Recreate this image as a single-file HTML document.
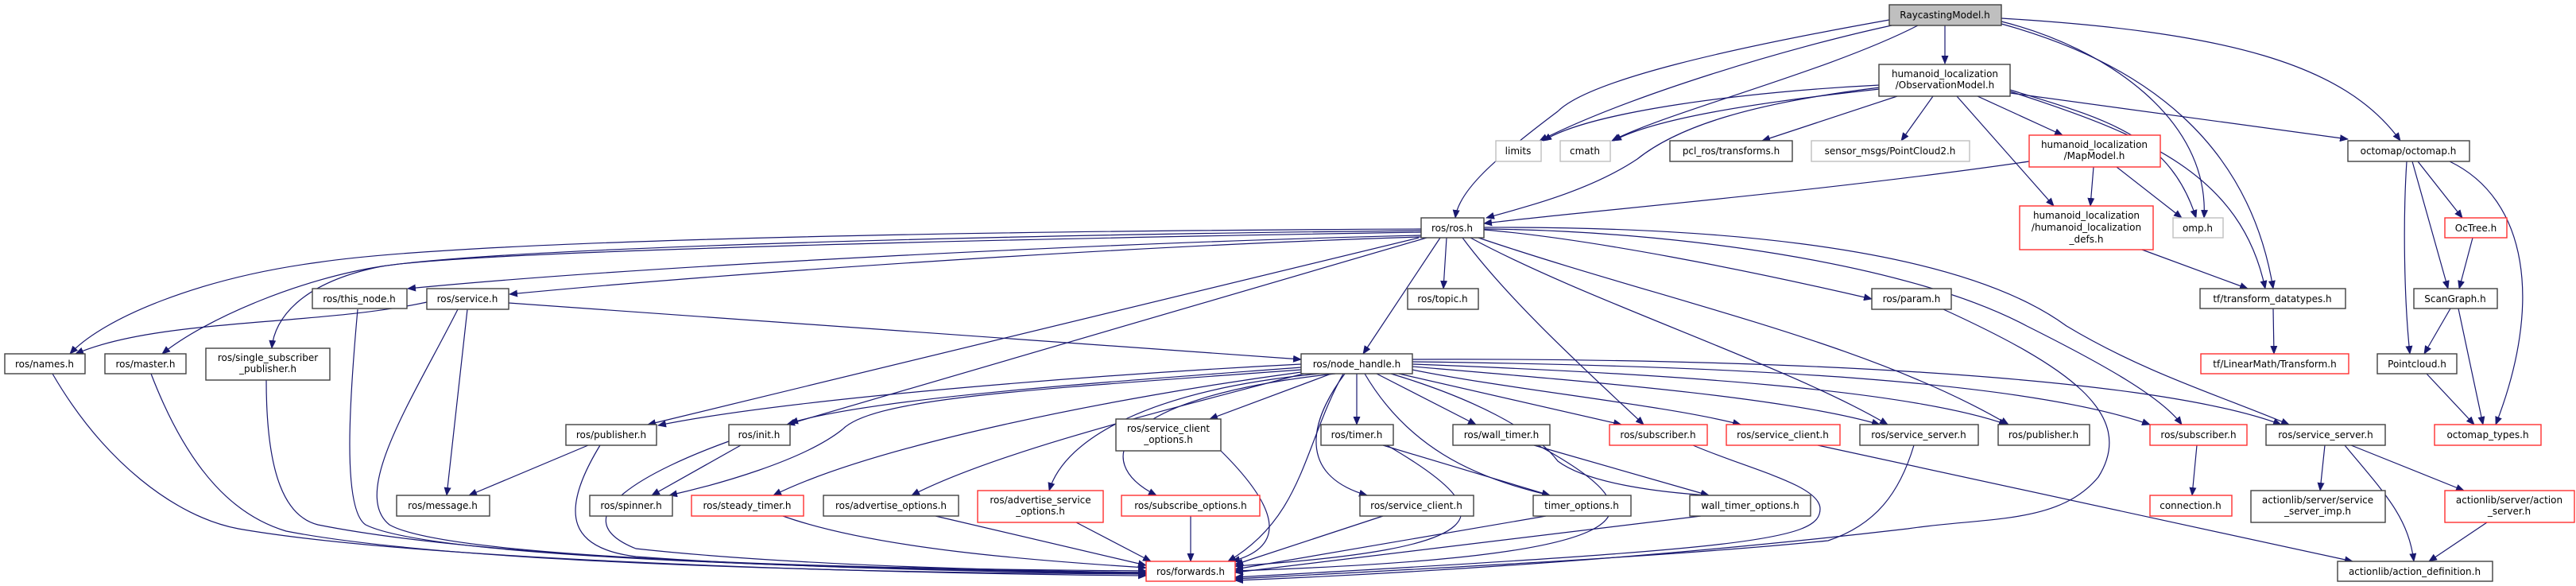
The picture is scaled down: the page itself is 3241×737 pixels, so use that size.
<!DOCTYPE html>
<html><head><meta charset="utf-8"><style>
html,body{margin:0;padding:0;background:#fff;}
svg{display:block;}
text{font-family:"DejaVu Sans","Liberation Sans",sans-serif;font-size:12px;fill:#000;text-anchor:middle;}
.e{fill:none;stroke:#191970;stroke-width:1.2;marker-end:url(#a);}
.b{fill:#fff;stroke:#404040;stroke-width:1.4;}
.r{fill:#fff;stroke:#ff3030;stroke-width:1.4;}
.g{fill:#fff;stroke:#bfbfbf;stroke-width:1.4;}
</style></head><body>
<svg width="3241" height="737" viewBox="0 0 3241 737" xmlns="http://www.w3.org/2000/svg">
<defs><marker id="a" markerUnits="userSpaceOnUse" markerWidth="11" markerHeight="9" refX="10" refY="4.5" orient="auto"><path d="M0,0 L11,4.5 L0,9 z" fill="#191970"/></marker></defs>
<g>
<path class="e" d="M2447,32 L2447,80"/>
<path class="e" d="M2377,25 C2180,60 2000,100 1960,140 C1880,200 1835,240 1831,274"/>
<path class="e" d="M2380,32 C2250,60 2050,120 1937,177"/>
<path class="e" d="M2413,32 C2300,90 2100,140 2028,177"/>
<path class="e" d="M2518,27 C2650,60 2780,150 2773,274"/>
<path class="e" d="M2518,30 C2700,80 2830,180 2860,363"/>
<path class="e" d="M2518,23 C2800,40 2950,80 3020,177"/>
<path class="e" d="M2365,107 C2200,115 2000,140 1942,177"/>
<path class="e" d="M2365,112 C2200,130 2080,150 2030,177"/>
<path class="e" d="M2365,110 C2200,130 2110,160 2060,200 C2000,240 1920,260 1870,274"/>
<path class="e" d="M2387,121 L2217,177"/>
<path class="e" d="M2432,121 L2392,177"/>
<path class="e" d="M2488,121 L2595,170"/>
<path class="e" d="M2462,121 L2584,259"/>
<path class="e" d="M2529,113 C2650,150 2730,170 2763,274"/>
<path class="e" d="M2529,115 C2700,170 2820,220 2850,363"/>
<path class="e" d="M2529,117 L2954,175"/>
<path class="e" d="M2553,203 C2300,240 2000,265 1867,281"/>
<path class="e" d="M2634,210 L2630,259"/>
<path class="e" d="M2663,210 L2745,274"/>
<path class="e" d="M2695,314 L2828,363"/>
<path class="e" d="M3042,203 L3098,274"/>
<path class="e" d="M3035,203 L3080,363"/>
<path class="e" d="M3028,203 C3023,280 3025,380 3032,445"/>
<path class="e" d="M3082,203 C3180,250 3200,380 3140,534"/>
<path class="e" d="M3111,299 L3094,363"/>
<path class="e" d="M3083,388 L3050,445"/>
<path class="e" d="M3093,388 L3124,534"/>
<path class="e" d="M3053,470 L3113,534"/>
<path class="e" d="M2860,388 L2861,445"/>
<path class="e" d="M1788,288 C1300,290 600,300 400,330 C250,350 130,400 88,445"/>
<path class="e" d="M1788,290 C1300,295 650,310 480,335 C380,350 260,400 204,445"/>
<path class="e" d="M1788,292 C1300,300 600,315 480,335 C380,355 345,400 342,438"/>
<path class="e" d="M1788,296 C1400,305 800,335 513,363"/>
<path class="e" d="M1788,298 C1400,310 900,345 641,370"/>
<path class="e" d="M1785,299 L815,534"/>
<path class="e" d="M1795,299 L990,534"/>
<path class="e" d="M1820,299 L1816,363"/>
<path class="e" d="M1812,299 L1715,445"/>
<path class="e" d="M1840,299 C1900,380 2000,470 2068,534"/>
<path class="e" d="M1850,299 C2000,380 2250,460 2375,534"/>
<path class="e" d="M1860,299 C2100,380 2350,430 2527,534"/>
<path class="e" d="M1867,289 C2000,300 2200,340 2355,376"/>
<path class="e" d="M1867,288 C2100,290 2400,330 2550,410 C2650,460 2720,500 2745,534"/>
<path class="e" d="M1867,286 C2100,285 2450,300 2600,410 C2700,470 2800,500 2880,534"/>
<path class="e" d="M537,380 C400,410 200,400 95,445"/>
<path class="e" d="M640,381 L1637,452"/>
<path class="e" d="M588,389 L562,623"/>
<path class="e" d="M576,389 C520,500 440,620 490,660 C560,700 1000,715 1442,718"/>
<path class="e" d="M450,389 C440,500 430,640 460,660 C540,700 1000,715 1442,720"/>
<path class="e" d="M66,470 C130,580 220,650 300,665 C500,700 1000,720 1442,724"/>
<path class="e" d="M190,470 C240,600 300,650 360,668 C550,705 1000,720 1442,722"/>
<path class="e" d="M335,478 C335,600 360,650 400,660 C600,700 1000,716 1442,721"/>
<path class="e" d="M740,560 L590,623"/>
<path class="e" d="M755,560 C700,650 720,690 800,700 C1000,715 1300,720 1442,722"/>
<path class="e" d="M932,560 L820,623"/>
<path class="e" d="M917,555 C820,590 700,650 800,690 C1000,712 1300,718 1442,720"/>
<path class="e" d="M985,649 C1100,690 1300,705 1442,714"/>
<path class="e" d="M1177,649 L1442,711"/>
<path class="e" d="M1354,657 L1448,706"/>
<path class="e" d="M1498,649 L1498,706"/>
<path class="e" d="M1536,567 C1620,650 1610,690 1550,706"/>
<path class="e" d="M1740,560 L1950,623"/>
<path class="e" d="M1745,560 C1900,650 1880,690 1554,712"/>
<path class="e" d="M1930,560 L2150,623"/>
<path class="e" d="M1935,560 C2100,650 2080,700 1554,718"/>
<path class="e" d="M1740,649 L1554,710"/>
<path class="e" d="M1945,649 L1554,716"/>
<path class="e" d="M2140,649 L1554,720"/>
<path class="e" d="M2130,560 C2200,590 2290,610 2290,640 C2290,680 2200,690 1554,726"/>
<path class="e" d="M2408,560 C2390,620 2360,660 2300,680 C2100,700 1800,715 1554,728"/>
<path class="e" d="M2445,389 C2600,460 2690,520 2640,600 C2590,660 2500,650 2400,665 C2100,700 1800,720 1554,730"/>
<path class="e" d="M2287,560 L2960,706"/>
<path class="e" d="M2764,560 L2758,623"/>
<path class="e" d="M2925,560 L2919,617"/>
<path class="e" d="M2958,560 L3100,617"/>
<path class="e" d="M2950,560 C3000,620 3030,650 3037,706"/>
<path class="e" d="M3129,657 L3056,706"/>
<path class="e" d="M1637,458 C1400,470 1000,500 828,535"/>
<path class="e" d="M1637,462 C1400,480 1100,500 994,532"/>
<path class="e" d="M1637,465 C1300,490 1100,500 1060,540 C1010,580 900,610 842,623"/>
<path class="e" d="M1637,468 C1400,500 1100,560 973,623"/>
<path class="e" d="M1640,470 C1450,520 1250,570 1147,623"/>
<path class="e" d="M1660,470 C1450,490 1340,550 1320,617"/>
<path class="e" d="M1680,470 C1400,500 1370,580 1455,623"/>
<path class="e" d="M1675,470 L1522,527"/>
<path class="e" d="M1690,470 C1640,560 1640,650 1545,706"/>
<path class="e" d="M1707,470 L1707,534"/>
<path class="e" d="M1692,470 C1640,540 1640,600 1720,623"/>
<path class="e" d="M1717,470 C1770,560 1850,600 1950,623"/>
<path class="e" d="M1732,470 L1857,534"/>
<path class="e" d="M1750,470 C1850,500 1930,540 1960,580 C2000,610 2100,620 2150,623"/>
<path class="e" d="M1760,470 L2040,534"/>
<path class="e" d="M1777,465 C1900,490 2100,510 2190,534"/>
<path class="e" d="M1777,461 C2000,480 2250,500 2365,534"/>
<path class="e" d="M1777,458 C2100,470 2400,490 2525,534"/>
<path class="e" d="M1777,455 C2200,460 2550,480 2705,534"/>
<path class="e" d="M1777,452 C2200,450 2700,470 2870,534"/>
</g>
<g>
<rect x="2377" y="6" width="141" height="26" fill="#bfbfbf" stroke="#404040" stroke-width="1.4"/><text x="2447" y="23">RaycastingModel.h</text>
<rect class="b" x="2364" y="81" width="165" height="40"/><text x="2447" y="97">humanoid_localization</text><text x="2447" y="111">/ObservationModel.h</text>
<rect class="g" x="1882" y="177" width="57" height="26"/><text x="1910" y="194">limits</text>
<rect class="g" x="1963" y="177" width="63" height="26"/><text x="1994" y="194">cmath</text>
<rect class="b" x="2101" y="177" width="154" height="26"/><text x="2178" y="194">pcl_ros/transforms.h</text>
<rect class="g" x="2279" y="177" width="199" height="26"/><text x="2378" y="194">sensor_msgs/PointCloud2.h</text>
<rect class="r" x="2553" y="170" width="165" height="40"/><text x="2635" y="186">humanoid_localization</text><text x="2635" y="200">/MapModel.h</text>
<rect class="r" x="2541" y="259" width="168" height="55"/><text x="2625" y="275">humanoid_localization</text><text x="2625" y="290">/humanoid_localization</text><text x="2625" y="305">_defs.h</text>
<rect class="g" x="2734" y="274" width="63" height="25"/><text x="2765" y="291">omp.h</text>
<rect class="b" x="2954" y="177" width="153" height="26"/><text x="3030" y="194">octomap/octomap.h</text>
<rect class="r" x="3076" y="274" width="78" height="25"/><text x="3115" y="291">OcTree.h</text>
<rect class="b" x="3037" y="363" width="105" height="25"/><text x="3089" y="380">ScanGraph.h</text>
<rect class="b" x="2768" y="363" width="183" height="25"/><text x="2859" y="380">tf/transform_datatypes.h</text>
<rect class="r" x="2769" y="445" width="186" height="25"/><text x="2862" y="462">tf/LinearMath/Transform.h</text>
<rect class="b" x="2991" y="445" width="100" height="25"/><text x="3041" y="462">Pointcloud.h</text>
<rect class="r" x="3063" y="534" width="134" height="26"/><text x="3130" y="551">octomap_types.h</text>
<rect class="b" x="1788" y="274" width="79" height="25"/><text x="1827" y="291">ros/ros.h</text>
<rect class="b" x="1771" y="363" width="89" height="26"/><text x="1815" y="380">ros/topic.h</text>
<rect class="b" x="393" y="363" width="119" height="25"/><text x="452" y="380">ros/this_node.h</text>
<rect class="b" x="537" y="363" width="103" height="26"/><text x="588" y="380">ros/service.h</text>
<rect class="b" x="6" y="445" width="101" height="25"/><text x="56" y="462">ros/names.h</text>
<rect class="b" x="132" y="445" width="102" height="25"/><text x="183" y="462">ros/master.h</text>
<rect class="b" x="259" y="438" width="156" height="40"/><text x="337" y="454">ros/single_subscriber</text><text x="337" y="468">_publisher.h</text>
<rect class="b" x="2355" y="363" width="100" height="26"/><text x="2405" y="380">ros/param.h</text>
<rect class="b" x="1637" y="445" width="140" height="25"/><text x="1707" y="462">ros/node_handle.h</text>
<rect class="b" x="712" y="534" width="114" height="26"/><text x="769" y="551">ros/publisher.h</text>
<rect class="b" x="917" y="534" width="77" height="26"/><text x="955" y="551">ros/init.h</text>
<rect class="b" x="1404" y="527" width="132" height="40"/><text x="1470" y="543">ros/service_client</text><text x="1470" y="557">_options.h</text>
<rect class="b" x="1662" y="534" width="91" height="26"/><text x="1707" y="551">ros/timer.h</text>
<rect class="b" x="1828" y="534" width="122" height="26"/><text x="1889" y="551">ros/wall_timer.h</text>
<rect class="r" x="2025" y="534" width="123" height="26"/><text x="2086" y="551">ros/subscriber.h</text>
<rect class="r" x="2172" y="534" width="143" height="26"/><text x="2243" y="551">ros/service_client.h</text>
<rect class="b" x="2340" y="534" width="149" height="26"/><text x="2414" y="551">ros/service_server.h</text>
<rect class="b" x="2514" y="534" width="115" height="26"/><text x="2571" y="551">ros/publisher.h</text>
<rect class="r" x="2705" y="534" width="122" height="26"/><text x="2766" y="551">ros/subscriber.h</text>
<rect class="b" x="2851" y="534" width="150" height="26"/><text x="2926" y="551">ros/service_server.h</text>
<rect class="b" x="499" y="623" width="117" height="26"/><text x="557" y="640">ros/message.h</text>
<rect class="b" x="742" y="623" width="104" height="26"/><text x="794" y="640">ros/spinner.h</text>
<rect class="r" x="870" y="623" width="141" height="26"/><text x="940" y="640">ros/steady_timer.h</text>
<rect class="b" x="1036" y="623" width="170" height="26"/><text x="1121" y="640">ros/advertise_options.h</text>
<rect class="r" x="1230" y="617" width="158" height="40"/><text x="1309" y="633">ros/advertise_service</text><text x="1309" y="647">_options.h</text>
<rect class="r" x="1411" y="623" width="174" height="26"/><text x="1498" y="640">ros/subscribe_options.h</text>
<rect class="b" x="1711" y="623" width="143" height="26"/><text x="1782" y="640">ros/service_client.h</text>
<rect class="b" x="1929" y="623" width="123" height="26"/><text x="1990" y="640">timer_options.h</text>
<rect class="b" x="2126" y="623" width="152" height="26"/><text x="2202" y="640">wall_timer_options.h</text>
<rect class="r" x="2705" y="623" width="103" height="26"/><text x="2756" y="640">connection.h</text>
<rect class="b" x="2832" y="617" width="169" height="40"/><text x="2916" y="633">actionlib/server/service</text><text x="2916" y="647">_server_imp.h</text>
<rect class="r" x="3076" y="617" width="163" height="40"/><text x="3157" y="633">actionlib/server/action</text><text x="3157" y="647">_server.h</text>
<rect class="r" x="1442" y="706" width="112" height="25"/><text x="1498" y="723">ros/forwards.h</text>
<rect class="b" x="2941" y="706" width="195" height="25"/><text x="3038" y="723">actionlib/action_definition.h</text>
</g>
</svg>
</body></html>
